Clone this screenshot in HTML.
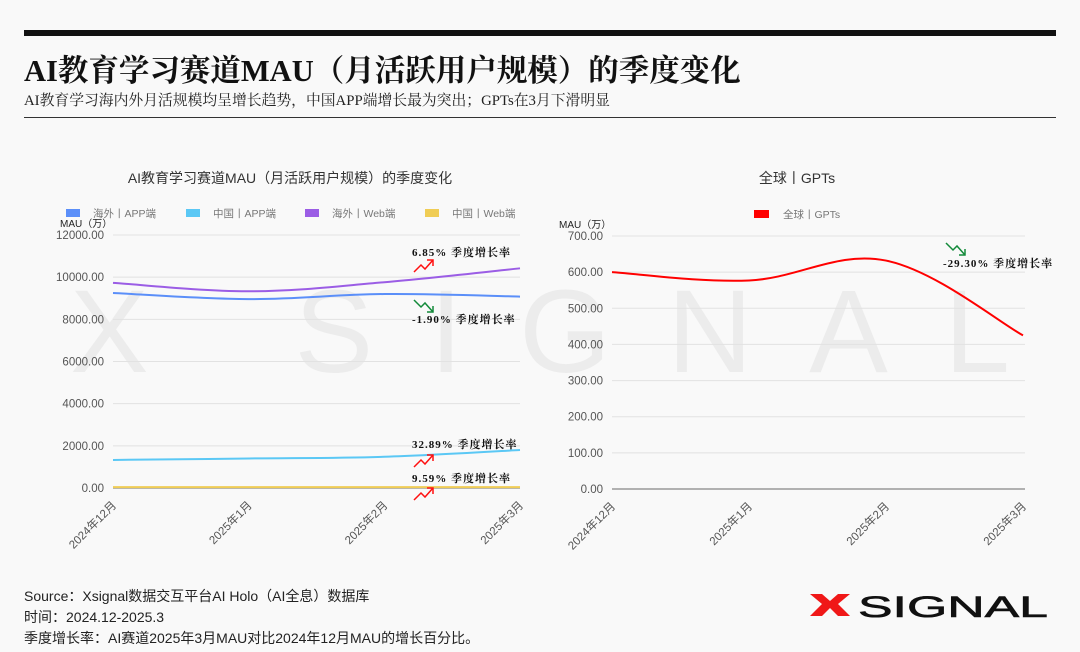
<!DOCTYPE html>
<html><head><meta charset="utf-8">
<style>
body{margin:0;background:#f9f9f9;font-family:"Liberation Sans","Noto Sans CJK SC",sans-serif;}
#wrap{position:relative;width:1080px;height:652px;overflow:hidden;background:#f9f9f9;}
.abs{position:absolute;}
</style></head><body>
<div id="wrap">
<div class="abs" style="left:24px;top:30px;width:1032px;height:6px;background:#111"></div>
<div class="abs" style="left:24px;top:46px;font-family:'Liberation Serif','Noto Serif CJK SC',serif;font-weight:bold;font-size:30.5px;color:#111;white-space:nowrap">AI教育学习赛道MAU（月活跃用户规模）的季度变化</div>
<div class="abs" style="left:24px;top:89px;font-family:'Liberation Serif','Noto Serif CJK SC',serif;font-size:14.8px;color:#222;white-space:nowrap">AI教育学习海内外月活规模均呈增长趋势，中国APP端增长最为突出；GPTs在3月下滑明显</div>
<div class="abs" style="left:24px;top:117px;width:1032px;height:1px;background:#333"></div>
<svg id="chart" class="abs" style="left:0;top:0" width="1080" height="652"></svg>
<div class="abs" style="left:24px;top:586px;font-size:14px;color:#222;line-height:21px;white-space:nowrap">Source：Xsignal数据交互平台AI Holo（AI全息）数据库<br>时间：2024.12-2025.3<br>季度增长率：AI赛道2025年3月MAU对比2024年12月MAU的增长百分比。</div>
<svg class="abs" style="left:808px;top:591px" width="245" height="30">
<polygon points="2,3 14,3 22,10 30,3 42,3 30,13 42,25 30,25 22,17 14,25 2,25 14,13" fill="#f01818"/>
<text x="50" y="26" font-family="Liberation Sans" font-size="30" fill="#111" textLength="190" lengthAdjust="spacingAndGlyphs" stroke="#111" stroke-width="0.6">SIGNAL</text>
</svg>
</div>
<script>
const cats=['2024年12月','2025年1月','2025年2月','2025年3月'];
const seaApp=[9250,8960,9200,9080];
const cnApp=[1330,1400,1480,1800];
const seaWeb=[9730,9330,9760,10420];
const cnWeb=[40,42,43,44];
const leftTicks=[0,2000,4000,6000,8000,10000,12000];
const gpts=[600,577,632,425];
const rightTicks=[0,100,200,300,400,500,600,700];
const NS='http://www.w3.org/2000/svg';
const svg=document.getElementById('chart');
function el(t,a,p){const e=document.createElementNS(NS,t);for(const k in a)e.setAttribute(k,a[k]);(p||svg).appendChild(e);return e;}
function txt(x,y,s,a){const e=el('text',Object.assign({x:x,y:y},a));e.textContent=s;return e;}
const wm=txt(70,372,'X SIGNAL',{'font-size':'118',fill:'#000','fill-opacity':'0.05','font-family':'Liberation Sans',textLength:'940',lengthAdjust:'spacing'});


function path(pts){let d='M'+pts[0][0]+','+pts[0][1];for(let i=0;i<pts.length-1;i++){const p0=pts[i-1]||pts[i],p1=pts[i],p2=pts[i+1],p3=pts[i+2]||p2;const t=0.18;d+=' C'+(p1[0]+(p2[0]-p0[0])*t)+','+(p1[1]+(p2[1]-p0[1])*t)+' '+(p2[0]-(p3[0]-p1[0])*t)+','+(p2[1]-(p3[1]-p1[1])*t)+' '+p2[0]+','+p2[1];}return d;}
function chart(o){
 const x=i=>o.x0+(o.x1-o.x0)*i/(cats.length-1);
 const y=v=>o.y0-(o.y0-o.y1)*(v-o.tmin)/(o.tmax-o.tmin);
 o.ticks.forEach(t=>{const g=el('line',{x1:o.x0,x2:o.gx1,y1:y(t),y2:y(t),stroke:t===0?'#999':'#e2e2e2','stroke-width':t===0?1.5:1});
  
  const l=txt(o.x0-9,y(t)+4,t.toFixed(2),{'font-size':'11.5','text-anchor':'end',fill:'#555'});
  });
 const yt=txt(o.x0-53,y(o.tmax)-8,'MAU（万）',{'font-size':'10',fill:'#222'});
 
 cats.forEach((c,i)=>{const l=txt(x(i)+4,o.y0+18,c,{'font-size':'11.5','text-anchor':'end',fill:'#555',transform:'rotate(-45 '+(x(i)+4)+' '+(o.y0+18)+')'});
  });
 o.series.forEach(s=>{const p=el('path',{d:path(s.v.map((v,i)=>[x(i),y(v)])),fill:'none',stroke:s.c,'stroke-width':2});
  });
}
const t1=txt(290,183,'AI教育学习赛道MAU（月活跃用户规模）的季度变化',{'font-size':'14','text-anchor':'middle',fill:'#333'});

const t2=txt(797,183,'全球丨GPTs',{'font-size':'14','text-anchor':'middle',fill:'#333'});

const leg=[['海外丨APP端','#5b8ff9',66],['中国丨APP端','#5bc8f5',186],['海外丨Web端','#9b5de5',305],['中国丨Web端','#f0cd55',425]];
leg.forEach(l=>{const r=el('rect',{x:l[2],y:209,width:14,height:8,fill:l[1]});
 const t=txt(l[2]+27,217,l[0],{'font-size':'10.5',fill:'#777'});});
const rr=el('rect',{x:754,y:210,width:15,height:8,fill:'#ff0000'});
const rt=txt(783,218,'全球丨GPTs',{'font-size':'10.5',fill:'#777'});
chart({x0:113,x1:520,gx1:520,y0:488,y1:235,tmin:0,tmax:12000,ticks:leftTicks,series:[
 {v:cnWeb,c:'#f0cd55',n:'line-cn-web'},{v:seaApp,c:'#5b8ff9',n:'line-sea-app'},{v:cnApp,c:'#5bc8f5',n:'line-cn-app'},{v:seaWeb,c:'#9b5de5',n:'line-sea-web'}]});
chart({x0:612,x1:1023,gx1:1025,y0:489,y1:236,tmin:0,tmax:700,ticks:rightTicks,series:[{v:gpts,c:'#ff0000',n:'line-gpts'}]});
function ann(x,y,s,up,ax,ay){
 const t=txt(x,y,s,{'font-size':'11','font-weight':'bold',fill:'#111','font-family':'Liberation Serif, Noto Serif CJK SC, serif','letter-spacing':'1'});
 
 const c=up?'#ff1010':'#138a3a';
 const pts=up?[[ax,ay+12],[ax+7,ay+5],[ax+11,ay+9],[ax+19,ay]]:[[ax,ay],[ax+7,ay+7],[ax+11,ay+3],[ax+19,ay+12]];
 const p=el('polyline',{points:pts.map(q=>q.join(',')).join(' '),fill:'none',stroke:c,'stroke-width':1.5});
 
 const e=pts[3];const h=up?[[e[0]-6,e[1]],[e[0],e[1]],[e[0],e[1]+6]]:[[e[0]-6,e[1]],[e[0],e[1]],[e[0],e[1]-6]];
 const hp=el('polyline',{points:h.map(q=>q.join(',')).join(' '),fill:'none',stroke:c,'stroke-width':1.5});
 
}
ann(412,256,'6.85%  季度增长率',true,414,260);
ann(412,323,'-1.90%  季度增长率',false,414,300);
ann(412,448,'32.89%  季度增长率',true,414,455);
ann(412,482,'9.59%  季度增长率',true,414,488);
ann(943,267,'-29.30%  季度增长率',false,946,243);
</script>
</body></html>
